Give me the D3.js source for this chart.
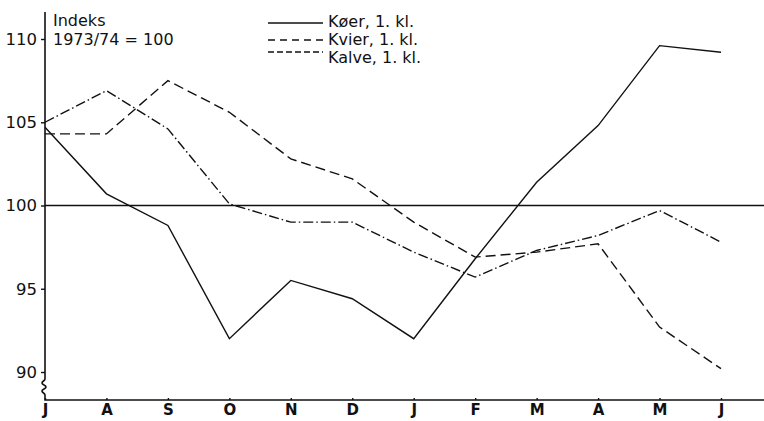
<!DOCTYPE html>
<html>
<head>
<meta charset="utf-8">
<script src="https://cdn.jsdelivr.net/npm/d3@7/dist/d3.min.js"></script>
<style>
  html, body { margin: 0; padding: 0; background: #fff; }
  svg { display: block; }
  text { font-family: "DejaVu Sans", "Liberation Sans", sans-serif; fill: #111; }
</style>
</head>
<body>
<svg id="chart" width="764" height="421"></svg>
<script>
// ---- data ----
const months = ["J", "A", "S", "O", "N", "D", "J", "F", "M", "A", "M", "J"];
const koer  = [104.7, 100.7, 98.8, 92.0, 95.5, 94.4, 92.0, 96.8, 101.4, 104.8, 109.6, 109.2];
const kvier = [104.3, 104.3, 107.5, 105.6, 102.8, 101.6, 99.0, 96.9, 97.2, 97.7, 92.7, 90.2];
const kalve = [105.0, 106.9, 104.6, 100.1, 99.0, 99.0, 97.2, 95.7, 97.3, 98.2, 99.7, 97.8];
const yTicks = [90, 95, 100, 105, 110];
const seriesNames = ["Køer, 1. kl.", "Kvier, 1. kl.", "Kalve, 1. kl."];
const titleLines = ["Indeks", "1973/74 = 100"];
const referenceValue = 100;

// ---- layout ----
const svg = d3.select("#chart");
const W = 764;
const x = d3.scaleLinear().domain([0, months.length - 1]).range([45, 721]);
const y = d3.scaleLinear().domain([90, 110]).range([372, 39]);
const axisX = 45, axisTop = 12, axisBottom = 400;
const ink = "#111";

// y axis line with break squiggle, joined to x axis
svg.append("path")
  .attr("d", `M${axisX},${axisTop} L${axisX},379 C${axisX},381 ${axisX-3},381 ${axisX-3},383 C${axisX-3},385 ${axisX+1},385 ${axisX+1},387 C${axisX+1},389 ${axisX-3},389 ${axisX-3},391 C${axisX-3},393 ${axisX},393 ${axisX},395 L${axisX},${axisBottom} L${W},${axisBottom}`)
  .attr("fill", "none").attr("stroke", ink).attr("stroke-width", 1.6);

// y ticks & labels
const yAxis = d3.axisLeft(y).tickValues(yTicks).tickSize(4).tickPadding(4).tickFormat(d3.format("d"));
const gy = svg.append("g").attr("transform", `translate(${axisX},0)`).call(yAxis);
gy.select(".domain").remove();
gy.selectAll(".tick line").attr("stroke", ink).attr("stroke-width", 1.4);
gy.selectAll(".tick text").attr("font-size", 16.5).attr("font-family", "DejaVu Sans, sans-serif").attr("fill", ink);

// x ticks & labels
const xAxis = d3.axisBottom(x).tickValues(d3.range(months.length)).tickSize(-2).tickPadding(4).tickFormat(i => months[i]);
const gx = svg.append("g").attr("transform", `translate(0,${axisBottom})`).call(xAxis);
gx.select(".domain").remove();
gx.selectAll(".tick line").attr("stroke", ink).attr("stroke-width", 1.4);
gx.selectAll(".tick text").attr("font-size", 15).attr("font-weight", "bold").attr("font-family", "DejaVu Sans, sans-serif").attr("fill", ink);

// reference line at 100
svg.append("line")
  .attr("x1", axisX).attr("x2", W)
  .attr("y1", y(referenceValue)).attr("y2", y(referenceValue))
  .attr("stroke", ink).attr("stroke-width", 1.5);

// series lines
const line = d3.line().x((d, i) => x(i)).y(d => y(d));
const styles = [
  { data: koer,  dash: null,         legendDash: null },
  { data: kvier, dash: "10,5",       legendDash: "7,5" },
  { data: kalve, dash: "10,3,1.5,3", legendDash: "6,3" }
];
styles.forEach(s => {
  svg.append("path")
    .datum(s.data)
    .attr("d", line)
    .attr("fill", "none")
    .attr("stroke", ink)
    .attr("stroke-width", 1.4)
    .attr("stroke-linejoin", "miter")
    .attr("stroke-dasharray", s.dash);
});

// title
svg.append("text").attr("x", 53).attr("y", 26).attr("font-size", 16).text(titleLines[0]);
svg.append("text").attr("x", 53).attr("y", 45).attr("font-size", 16).text(titleLines[1]);

// legend
const legLineY = [23, 40, 52];
const legTextY = [27, 45, 63];
seriesNames.forEach((name, i) => {
  svg.append("line")
    .attr("x1", 268).attr("x2", 323)
    .attr("y1", legLineY[i]).attr("y2", legLineY[i])
    .attr("stroke", ink).attr("stroke-width", 1.4)
    .attr("stroke-dasharray", styles[i].legendDash);
  svg.append("text").attr("x", 328).attr("y", legTextY[i]).attr("font-size", 16).text(name);
});
</script>
</body>
</html>
